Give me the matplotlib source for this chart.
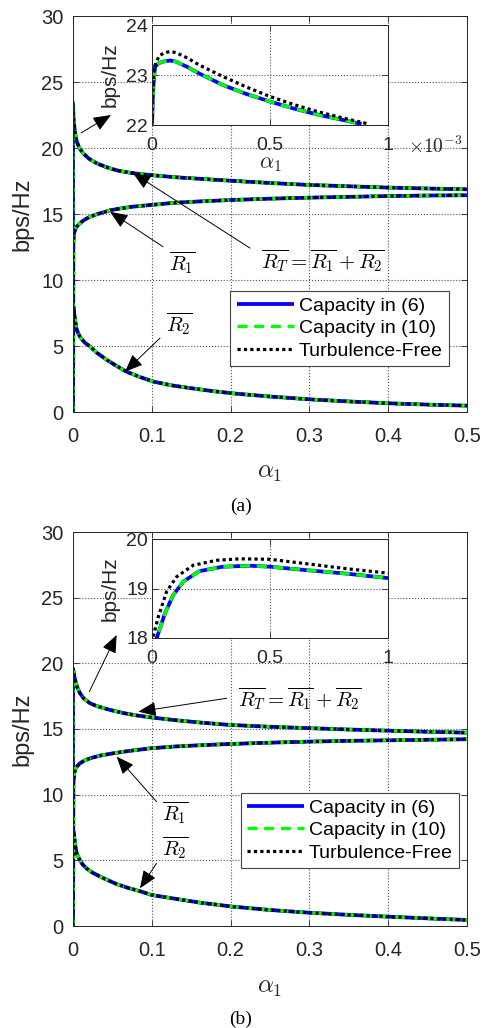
import matplotlib
matplotlib.use("Agg")
import matplotlib.pyplot as plt

plt.rcParams['font.family'] = ['Liberation Sans', 'DejaVu Sans']
plt.rcParams['mathtext.fontset'] = 'cm'

# ---------------- data ----------------
main_xticks = [0, 0.1, 0.2, 0.3, 0.4, 0.5]
main_xticklabels = ['0', '0.1', '0.2', '0.3', '0.4', '0.5']
main_yticks = [0, 5, 10, 15, 20, 25, 30]
inset_xticks = [0, 0.5, 1]
inset_xticklabels = ['0', '0.5', '1']
inset_a_yticks = [22, 23, 24]
inset_b_yticks = [18, 19, 20]
legend_labels = ['Capacity in (6)', 'Capacity in (10)', 'Turbulence-Free']

# panel (a)
a_RT_x = [0, 0.000013, 0.00008, 0.0002, 0.0004, 0.0006, 0.0009, 0.0025, 0.0047,
          0.008, 0.013, 0.02, 0.03, 0.04, 0.05, 0.06, 0.072, 0.085, 0.098, 0.131,
          0.16, 0.2, 0.25, 0.3, 0.35, 0.4, 0.45, 0.5]
a_RT_cap = [0, 23.17, 23.29, 23.03, 22.62, 22.33, 22.0, 21.2, 20.5,
            20.0, 19.6, 19.2, 18.85, 18.6, 18.4, 18.25, 18.13, 18.03, 17.95, 17.78,
            17.67, 17.52, 17.35, 17.2, 17.1, 17.0, 16.93, 16.87]
a_RT_free = [0, 23.3, 23.47, 23.2, 22.76, 22.41, 22.05, 21.25, 20.5,
             20.0, 19.6, 19.2, 18.85, 18.6, 18.4, 18.25, 18.13, 18.03, 17.95, 17.78,
             17.67, 17.52, 17.35, 17.2, 17.1, 17.0, 16.93, 16.87]
a_R1_x = [0, 0.0005, 0.0015, 0.004, 0.008, 0.013, 0.02, 0.03, 0.04, 0.047, 0.06,
          0.075, 0.098, 0.131, 0.16, 0.2, 0.25, 0.3, 0.35, 0.4, 0.45, 0.5]
a_R1 = [0, 12.8, 13.6, 14.0, 14.25, 14.5, 14.75, 14.98, 15.15, 15.28, 15.42,
        15.55, 15.68, 15.86, 15.95, 16.06, 16.16, 16.24, 16.3, 16.36, 16.4, 16.42]
a_R2_x = [0, 0.0005, 0.0015, 0.0042, 0.007, 0.01, 0.015, 0.022, 0.03, 0.043, 0.055,
          0.068, 0.085, 0.102, 0.125, 0.15, 0.175, 0.203, 0.25, 0.3, 0.35, 0.4,
          0.45, 0.5]
a_R2 = [0, 8.0, 7.47, 6.34, 5.9, 5.6, 5.25, 4.95, 4.5, 3.94, 3.5,
        3.05, 2.65, 2.3, 2.02, 1.8, 1.6, 1.41, 1.17, 0.96, 0.8, 0.66,
        0.56, 0.48]

# inset (a), alpha_1 in units of 1e-3
ia_x_cap = [0, 0.003, 0.006, 0.013, 0.03, 0.05, 0.076, 0.1, 0.15, 0.2, 0.3, 0.4,
            0.5, 0.6, 0.7, 0.8, 0.888]
ia_cap = [21.9, 22.5, 22.8, 23.17, 23.24, 23.27, 23.29, 23.27, 23.16, 23.03, 22.8,
          22.62, 22.47, 22.33, 22.21, 22.11, 22.02]
ia_x_free = [0, 0.003, 0.006, 0.013, 0.03, 0.05, 0.076, 0.1, 0.15, 0.2, 0.3, 0.4,
             0.5, 0.6, 0.7, 0.8, 0.91]
ia_free = [21.9, 22.6, 22.95, 23.2, 23.38, 23.44, 23.47, 23.45, 23.34, 23.2, 22.97,
           22.76, 22.57, 22.41, 22.27, 22.15, 22.03]

# panel (b)
b_RT_x = [0, 0.00002, 0.0001, 0.0004, 0.001, 0.003, 0.0055, 0.0089, 0.014, 0.0216,
          0.03, 0.047, 0.065, 0.08, 0.098, 0.13, 0.16, 0.199, 0.25, 0.301, 0.35,
          0.402, 0.45, 0.5]
b_RT_cap = [0, 18.0, 19.0, 19.46, 19.21, 18.65, 18.15, 17.72, 17.3, 16.96,
            16.75, 16.45, 16.2, 16.04, 15.89, 15.67, 15.5, 15.31, 15.17, 15.06, 14.96,
            14.87, 14.79, 14.72]
b_RT_free = [0, 18.0, 19.24, 19.6, 19.31, 18.7, 18.15, 17.72, 17.3, 16.96,
             16.75, 16.45, 16.2, 16.04, 15.89, 15.67, 15.5, 15.31, 15.17, 15.06, 14.96,
             14.87, 14.79, 14.72]
b_R1_x = [0, 0.0005, 0.0015, 0.003, 0.0047, 0.009, 0.0146, 0.0216, 0.035, 0.051,
          0.07, 0.098, 0.13, 0.16, 0.199, 0.25, 0.3, 0.35, 0.402, 0.45, 0.5]
b_R1 = [0, 10.8, 11.6, 11.95, 12.13, 12.4, 12.6, 12.77, 12.98, 13.15,
        13.32, 13.53, 13.67, 13.76, 13.86, 13.96, 14.04, 14.1, 14.14, 14.18, 14.22]
b_R2_x = [0, 0.0005, 0.0015, 0.003, 0.0047, 0.008, 0.012, 0.017, 0.025, 0.039,
          0.055, 0.07, 0.085, 0.1, 0.13, 0.161, 0.203, 0.25, 0.3, 0.35, 0.4,
          0.45, 0.5]
b_R2 = [0, 7.2, 6.8, 6.1, 5.53, 5.1, 4.7, 4.39, 4.05, 3.63,
        3.2, 2.9, 2.65, 2.36, 2.07, 1.78, 1.47, 1.22, 1.01, 0.85, 0.71,
        0.58, 0.46]

# inset (b)
ib_x_cap = [0.01, 0.02, 0.055, 0.09, 0.133, 0.2, 0.3, 0.415, 0.5, 0.655, 0.825, 1.0]
ib_cap = [17.8, 18.0, 18.5, 18.87, 19.14, 19.35, 19.44, 19.46, 19.44, 19.37, 19.30, 19.21]
ib_x_free = [0, 0.003, 0.027, 0.062, 0.105, 0.175, 0.274, 0.373, 0.5, 0.655, 0.825, 1.0]
ib_free = [17.9, 18.0, 18.43, 18.94, 19.24, 19.47, 19.57, 19.60, 19.59, 19.5, 19.40, 19.31]

# ---------------- styling ----------------
W, H = 483, 1028
fig = plt.figure(figsize=(W / 100, H / 100), dpi=100)
DARK = '#262626'
BLUE, GREEN = '#0000ff', '#00ff00'


def fr(l, t, r, b):
    return [l / W, 1 - b / H, (r - l) / W, (b - t) / H]


def style_axes(ax, xpad, ypad, fs):
    ax.tick_params(direction='in', top=True, right=True, length=4, width=0.6,
                   colors=DARK, labelsize=fs)
    ax.tick_params(axis='x', pad=xpad)
    ax.tick_params(axis='y', pad=ypad)
    for s in ax.spines.values():
        s.set_color(DARK)
        s.set_linewidth(0.7)
    ax.grid(True, linestyle=':', color='#555555', linewidth=0.8)
    ax.set_axisbelow(True)


def draw3(ax, x_cap, y_cap, x_free, y_free, lab=False):
    l1, = ax.plot(x_cap, y_cap, color=BLUE, lw=2.7, solid_capstyle='butt',
                  solid_joinstyle='round',
                  label=legend_labels[0] if lab else None)
    l2, = ax.plot(x_cap, y_cap, color=GREEN, lw=2.4, linestyle=(0, (3, 2)),
                  dash_joinstyle='round',
                  label=legend_labels[1] if lab else None)
    l3, = ax.plot(x_free, y_free, color='black', lw=2.3, linestyle=(0, (1, 1)),
                  label=legend_labels[2] if lab else None)
    return [l1, l2, l3]


def arrow(ax, head, tail):
    ax.annotate('', xy=head, xytext=tail, xycoords='data', textcoords='data',
                arrowprops=dict(arrowstyle='-|>,head_length=1.1,head_width=0.45',
                                mutation_scale=10, color='black', lw=0.7,
                                shrinkA=0, shrinkB=0), zorder=6)


panels = [
    dict(rect=fr(73, 16, 467, 412), inset=fr(152, 25, 388, 125),
         RT=(a_RT_x, a_RT_cap, a_RT_free), R1=(a_R1_x, a_R1), R2=(a_R2_x, a_R2),
         ins=(ia_x_cap, ia_cap, ia_x_free, ia_free), iy=inset_a_yticks,
         leg=(0.954, 0.3056), cap='(a)', capy=506, xl=-0.12),
    dict(rect=fr(73, 532, 467, 926), inset=fr(152, 539, 388, 638),
         RT=(b_RT_x, b_RT_cap, b_RT_free), R1=(b_R1_x, b_R1), R2=(b_R2_x, b_R2),
         ins=(ib_x_cap, ib_cap, ib_x_free, ib_free), iy=inset_b_yticks,
         leg=(0.98, 0.3376), cap='(b)', capy=1019, xl=-0.124),
]

for k, p in enumerate(panels):
    ax = fig.add_axes(p['rect'])
    style_axes(ax, xpad=11, ypad=7, fs=14.5)
    rx, rc, rf = p['RT']
    handles = draw3(ax, rx, rc, rx, rf, lab=True)
    draw3(ax, p['R1'][0], p['R1'][1], p['R1'][0], p['R1'][1])
    draw3(ax, p['R2'][0], p['R2'][1], p['R2'][0], p['R2'][1])
    ax.set_xlim(0, 0.5)
    ax.set_ylim(0, 30)
    ax.set_xticks(main_xticks)
    ax.set_xticklabels(main_xticklabels)
    ax.set_yticks(main_yticks)
    ax.set_ylabel('bps/Hz', fontsize=17, color=DARK)
    ax.yaxis.set_label_coords(-0.128, 0.5)
    ax.yaxis.label.set_va('center')
    ax.set_xlabel(r'$\alpha_{\mathsf{1}}$', fontsize=18, color=DARK)
    ax.xaxis.set_label_coords(0.5, p['xl'])
    ax.xaxis.label.set_va('top')

    leg = ax.legend(handles=handles, loc='upper right', bbox_to_anchor=p['leg'],
                    borderaxespad=0, fontsize=14, handlelength=2.95,
                    handletextpad=0.25, borderpad=0.32, labelspacing=0.25,
                    fancybox=False, framealpha=1, edgecolor='#444444')
    leg.get_frame().set_linewidth(0.8)
    leg.set_zorder(7)

    if k == 0:
        arrow(ax, (0.0482, 22.5), (0.0102, 21.14))
        arrow(ax, (0.0761, 18.1), (0.2246, 12.42))
        arrow(ax, (0.047, 15.17), (0.1142, 12.52))
        arrow(ax, (0.066, 3.05), (0.1104, 5.6))
        ax.text(0.317, 11.44, r'$\overline{R_T}=\overline{R_1}+\overline{R_2}$',
                fontsize=15, ha='center', va='center')
        ax.text(0.139, 11.29, r'$\overline{R_1}$', fontsize=15, ha='center', va='center')
        ax.text(0.135, 6.67, r'$\overline{R_2}$', fontsize=15, ha='center', va='center')
    else:
        arrow(ax, (0.0554, 22.16), (0.0207, 17.84))
        arrow(ax, (0.0829, 16.32), (0.195, 17.34))
        arrow(ax, (0.0554, 12.9), (0.106, 9.47))
        arrow(ax, (0.085, 2.87), (0.106, 4.77))
        ax.text(0.288, 17.36, r'$\overline{R_T}=\overline{R_1}+\overline{R_2}$',
                fontsize=15, ha='center', va='center')
        ax.text(0.130, 8.64, r'$\overline{R_1}$', fontsize=15, ha='center', va='center')
        ax.text(0.130, 5.94, r'$\overline{R_2}$', fontsize=15, ha='center', va='center')

    # inset
    ia = fig.add_axes(p['inset'])
    ia.set_zorder(5)
    ia.set_facecolor('white')
    style_axes(ia, xpad=8.5, ypad=3, fs=14)
    xc, yc, xf, yf = p['ins']
    draw3(ia, xc, yc, xf, yf)
    ia.set_xlim(0, 1)
    ia.set_ylim(p['iy'][0], p['iy'][-1])
    ia.set_xticks(inset_xticks)
    ia.set_xticklabels(inset_xticklabels)
    ia.set_yticks(p['iy'])
    ia.set_ylabel('bps/Hz', fontsize=15, color=DARK)
    ia.yaxis.set_label_coords(-0.178, 0.5)
    ia.yaxis.label.set_va('center')
    if k == 0:
        ia.set_xlabel(r'$\alpha_{\mathsf{1}}$', fontsize=16, color=DARK)
        ia.xaxis.set_label_coords(0.5, -0.285)
        ia.xaxis.label.set_va('top')
        fig.text(408 / W, 1 - 146 / H, r'$\times\mathsf{10^{-3}}$', fontsize=14,
                 color=DARK, ha='left', va='center')

    fig.text(241 / W, 1 - p['capy'] / H, p['cap'], fontsize=14,
             family='Liberation Serif', ha='center', va='center')

fig.savefig('out.png', dpi=100)
